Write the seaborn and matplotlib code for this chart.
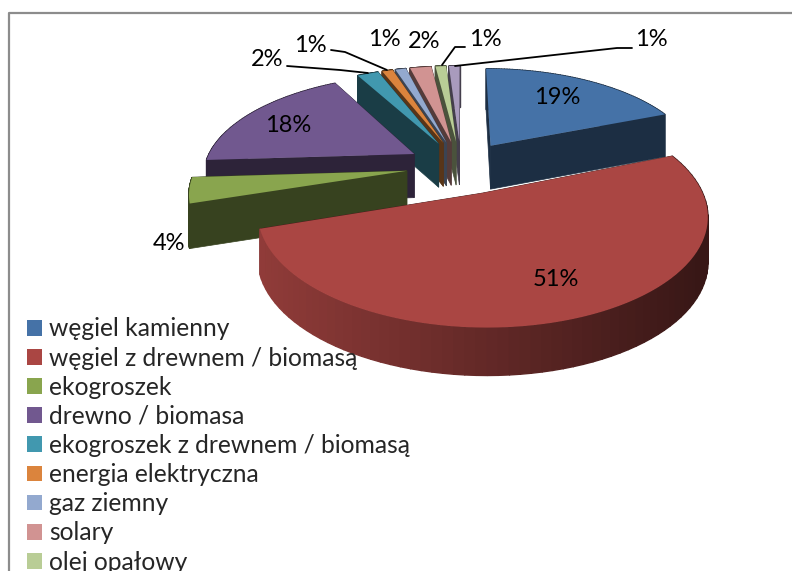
import numpy as np
import matplotlib
matplotlib.use("Agg")
import matplotlib.pyplot as plt
from matplotlib.patches import Patch
import seaborn as sns

categories = [
    "węgiel kamienny",
    "węgiel z drewnem / biomasą",
    "ekogroszek",
    "drewno / biomasa",
    "ekogroszek z drewnem / biomasą",
    "energia elektryczna",
    "gaz ziemny",
    "solary",
    "olej opałowy",
]
values = [19, 51, 4, 18, 2, 1, 1, 2, 1, 1]
labels = ["19%", "51%", "4%", "18%", "2%", "1%", "1%", "2%", "1%", "1%"]
colors = ["#4572A7", "#AA4643", "#89A54E", "#71588F", "#4198AF",
          "#DB843D", "#93A9CF", "#D19392", "#B9CD96", "#A99BBD"]
explode = [0.26, 0.28, 0.26, 0.26, 0.26, 0.26, 0.26, 0.26, 0.26, 0.26]

# camera for the tilted pie, result is in image pixels
CX, CY, AX, AY, PERSP, DEPTH = 461, 166, 210, 98, 0.185, 44

sns.set_theme(style="white")
plt.rcParams["font.family"] = ["Lato", "DejaVu Sans"]


def project(x, y, z=0.0):
    w = 1 + PERSP * y
    return CX + AX * x / w, CY - AY * y / w + DEPTH * z / (1 + 0.35 * PERSP * y)


def shade(color, f):
    return tuple(c * f for c in matplotlib.colors.to_rgb(color))


fig, ax = plt.subplots(figsize=(7.92, 5.71), dpi=100)
fig.subplots_adjust(0, 0, 1, 1)
wedges, _ = ax.pie(values, explode=explode, startangle=90, counterclock=False,
                   colors=colors, radius=1)
ax.set_aspect("auto")
ax.set_xlim(0, 792)
ax.set_ylim(571, 0)
ax.axis("off")

# back to front, tops of the thin slices hide the walls of their neighbours
for i in [9, 8, 7, 6, 5, 4, 3, 0, 2, 1]:
    wedge = wedges[i]
    wedge.set_visible(False)
    t = np.radians(np.linspace(wedge.theta1, wedge.theta2, 80))
    x0, y0 = wedge.center
    xs = np.r_[x0, x0 + wedge.r * np.cos(t)]
    ys = np.r_[y0, y0 + wedge.r * np.sin(t)]
    dark = shade(colors[i], 0.4)

    # radial walls
    for j in [1, -1]:
        qx = np.array([xs[0], xs[j], xs[j], xs[0]])
        qy = np.array([ys[0], ys[j], ys[j], ys[0]])
        px, py = project(qx, qy, np.array([0, 0, 1, 1]))
        ax.fill(px, py, color=dark, lw=0.5, zorder=2)

    # outer wall, only the red one has a visible gradient
    for k in range(1, len(xs) - 1):
        qx = np.array([xs[k], xs[k + 1], xs[k + 1], xs[k]])
        qy = np.array([ys[k], ys[k + 1], ys[k + 1], ys[k]])
        px, py = project(qx, qy, np.array([0, 0, 1, 1]))
        c = dark
        if i == 1:
            f = np.interp(px.mean(), [260, 700], [0.85, 0.33])
            c = shade(colors[i], f)
        ax.fill(px, py, color=c, lw=1, zorder=2)

    px, py = project(xs, ys)
    ax.fill(px, py, color=colors[i], lw=0, zorder=2)

# frame of the chart area
ax.plot([9, 9, 792], [571, 13, 13], color="#8c8c8c", lw=1.6, zorder=1)

label_x = [557, 556, 169, 288, 267, 310, 384, 424, 485, 651]
label_y = [97, 280, 243, 125, 60, 45, 40, 41, 40, 40]
for s, lx, ly in zip(labels, label_x, label_y):
    ax.text(lx, ly, s, ha="center", va="center", fontsize=17, color="black", zorder=5)

leaders = [
    ([287, 340, 368], [66, 70, 73]),
    ([331, 345, 387], [50, 52, 70]),
    ([465, 455, 442], [47, 47, 65]),
    ([632, 617, 455], [48, 48, 66]),
]
for lx, ly in leaders:
    ax.plot(lx, ly, color="black", lw=1.3, zorder=5)

handles = [Patch(facecolor=c, edgecolor="none") for c in colors[:9]]
ax.legend(handles, categories, loc="upper left", bbox_to_anchor=(20 / 792, 1 - 310 / 571),
          frameon=False, fontsize=17.7, handlelength=0.61, handleheight=0.61,
          handletextpad=0.28, labelspacing=0.25, borderpad=0.3, borderaxespad=0)

fig.savefig("out.png", dpi=100)
